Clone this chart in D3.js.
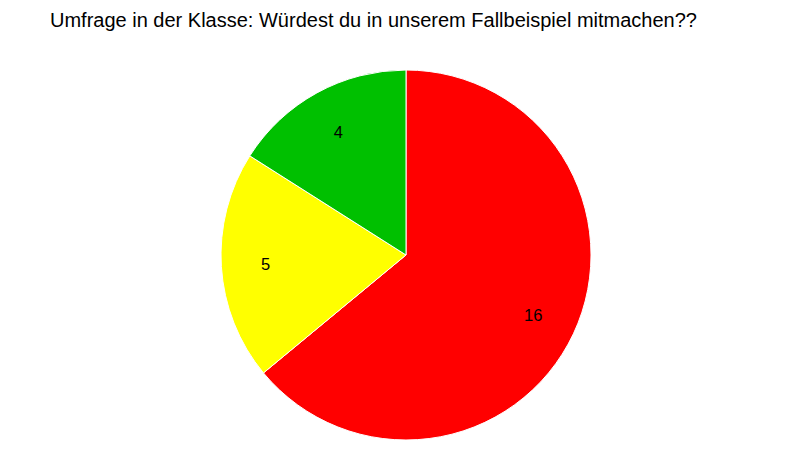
<!DOCTYPE html>
<html>
<head>
<meta charset="utf-8">
<script src="https://cdn.jsdelivr.net/npm/d3@7"></script>
<style>
  body { margin: 0; background: #fff; }
  text { font-family: "Liberation Sans", Arial, sans-serif; }
</style>
</head>
<body>
<svg id="chart" width="800" height="450"></svg>
<script>
const title = "Umfrage in der Klasse: Würdest du in unserem Fallbeispiel mitmachen??";
const categories = ["Nein", "Vielleicht", "Ja"];
const values = [16, 5, 4];
const colors = ["#ff0000", "#ffff00", "#00c000"];

const svg = d3.select("#chart");
const cx = 406, cy = 255, radius = 185;

let pie = d3.pie().sort(null).value(function (d) { return d; });
let arc = d3.arc().innerRadius(0).outerRadius(radius);
let labelArc = d3.arc().innerRadius(radius * 0.76).outerRadius(radius * 0.76);
let colorScale = d3.scaleOrdinal().domain(categories).range(colors);

let g = svg.append("g").attr("transform", `translate(${cx},${cy})`);

let slices = g.selectAll(".slice")
  .data(pie(values))
  .enter()
  .append("g")
  .attr("class", "slice");

slices.append("path")
  .attr("d", arc)
  .attr("fill", function (d, i) { return colorScale(categories[i]); })
  .attr("stroke", "#fff")
  .attr("stroke-width", 1);

slices.append("text")
  .attr("transform", function (d) { return `translate(${labelArc.centroid(d)})`; })
  .attr("text-anchor", "middle")
  .attr("dy", "0.35em")
  .attr("font-size", 16.5)
  .attr("fill", "#000")
  .text(function (d) { return d.data; });

// Title
svg.append("text")
  .attr("x", 50)
  .attr("y", 27)
  .attr("font-size", 20)
  .attr("fill", "#000")
  .text(title);
</script>
</body>
</html>
